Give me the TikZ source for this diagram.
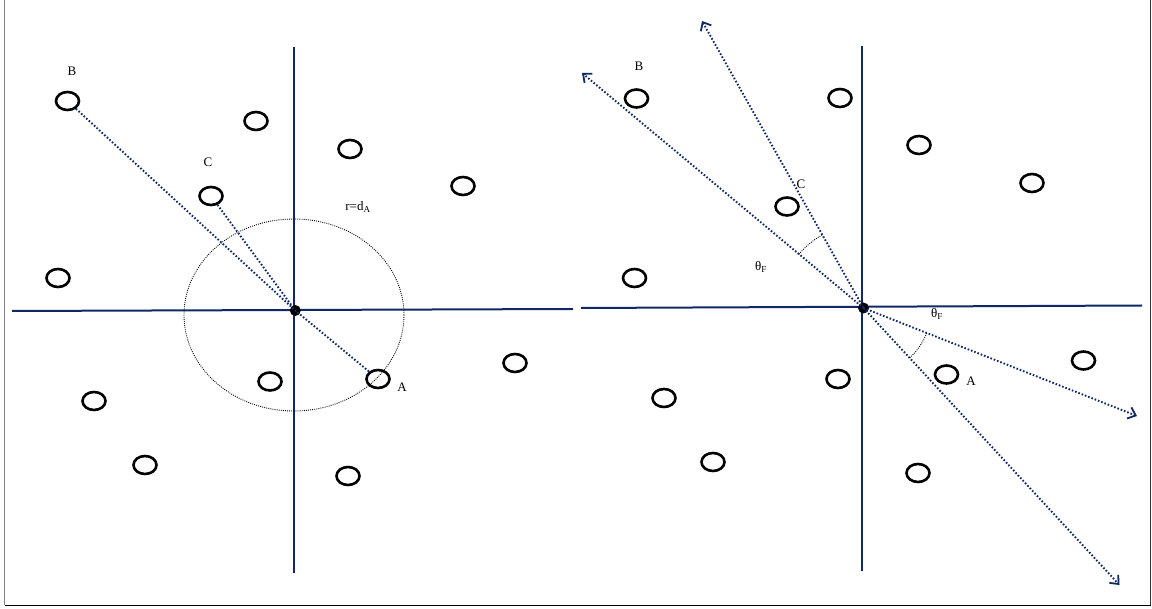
\documentclass[tikz,border=0pt]{standalone}
\usepackage{fontspec}
\setmainfont{Liberation Serif}
\usetikzlibrary{shapes.geometric,arrows.meta}
\definecolor{navy}{RGB}{16,40,100}
\begin{document}
\begin{tikzpicture}[x=1pt,y=-1pt,
  pt/.style={ellipse, draw=black, line width=2.6pt, minimum width=23pt, minimum height=18pt, inner sep=0pt},
  axis/.style={draw=navy, line width=2pt},
  ray/.style={draw=navy, line width=1.9pt, dash pattern=on 1.6pt off 1.9pt},
  arr/.style={ray, -{Straight Barb[length=7pt,width=12pt,line width=1.8pt]}},
  hub/.style={circle, fill=black, minimum size=11pt, inner sep=0pt},
  lbl/.style={font=\fontsize{13}{15}\selectfont, inner sep=0pt},
  thin/.style={draw=black, line width=0.9pt, dash pattern=on 0.9pt off 1.2pt}]
\useasboundingbox (0,0) rectangle (1152,609);
% frame
\draw[gray, line width=1.2pt] (4.5,0) -- (4.5,605);
\draw[black, line width=1pt] (4.5,605) -- (1150.5,605);
\draw[black!80, line width=1pt] (1150.5,0) -- (1150.5,605);

% ---------------- left panel ----------------
\coordinate (lh1) at (12,311); \coordinate (lh2) at (573,309);
\coordinate (lv1) at (294,47); \coordinate (lv2) at (294,573);
\draw[axis] (lh1) -- (lh2);
\draw[axis] (lv1) -- (lv2);
\draw[thin] (294,315) ellipse [x radius=110, y radius=96];
\node[pt] (lB) at (67.5,101) {};
\node[pt] (l2) at (256,121) {};
\node[pt] (l3) at (350,149) {};
\node[pt] (l4) at (463,186) {};
\node[pt] (lC) at (211,196) {};
\node[pt] (l6) at (58,278) {};
\node[pt] (l7) at (94,401) {};
\node[pt] (l8) at (270,381.5) {};
\node[pt] (lA) at (378,379) {};
\node[pt] (l10) at (515,363) {};
\node[pt] (l11) at (145,465) {};
\node[pt] (l12) at (348,476) {};
\node[hub] (o1) at (295.3,310.5) {};
\draw[ray] (lB) -- (o1.center) -- (lA);
\draw[ray] (lC) -- (o1);
\node[lbl] (tB1) at (72,71) {B};
\node[lbl] (tC1) at (208,162) {C};
\node[lbl] (tA1) at (402,387) {A};
\node[lbl] (tr) at (358,207) {r=d\textsubscript{A}};

% ---------------- right panel ----------------
\coordinate (rh1) at (581,308); \coordinate (rh2) at (1142,305.5);
\coordinate (rv1) at (862,46); \coordinate (rv2) at (862,571);
\draw[axis] (rh1) -- (rh2);
\draw[axis] (rv1) -- (rv2);
\node[pt] (rB) at (636.5,98.5) {};
\node[pt] (r2) at (840,98) {};
\node[pt] (r3) at (919,145) {};
\node[pt] (r4) at (1032,183) {};
\node[pt] (rC) at (787,206.5) {};
\node[pt] (r6) at (634.5,278) {};
\node[pt] (r7) at (664,398) {};
\node[pt] (r8) at (838,379) {};
\node[pt] (rA) at (946.5,374.5) {};
\node[pt] (r10) at (1083.5,360.5) {};
\node[pt] (r11) at (713,462) {};
\node[pt] (r12) at (918,473) {};
\node[hub] (o2) at (863.5,308) {};
\coordinate (t1) at (582,73);
\coordinate (t2) at (702,21);
\coordinate (t3) at (1137,416);
\coordinate (t4) at (1119.5,585);
\draw[arr] (o2.center) -- (t1);
\draw[arr] (o2.center) -- (t2);
\draw[arr] (o2.center) -- (t3);
\draw[arr] (o2.center) -- (t4);
\draw[thin] (o2.center) ++(-140.2:84) arc[start angle=-140.2, end angle=-119.4, radius=84];
\draw[thin] (o2.center) ++(47.2:68) arc[start angle=47.2, end angle=21.5, radius=68];
\node[lbl] (tB2) at (639,66) {B};
\node[lbl] (tC2) at (801,184) {C};
\node[lbl] (tA2) at (971,381) {A};
\node[lbl] (th1) at (761,267) {θ\textsubscript{F}};
\node[lbl] (th2) at (937,314) {θ\textsubscript{F}};
\end{tikzpicture}
\end{document}
